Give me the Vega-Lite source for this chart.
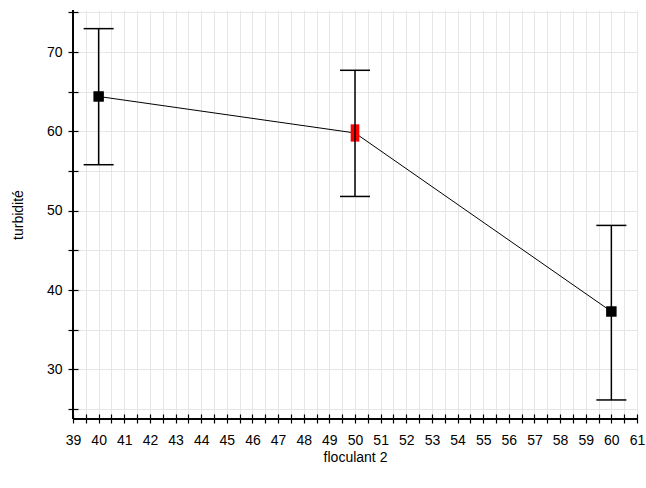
{
  "$schema": "https://vega.github.io/schema/vega-lite/v6.json",
  "width": 564,
  "height": 409,
  "autosize": "none",
  "padding": {"left": 73, "top": 10, "right": 9, "bottom": 69},
  "background": "white",
  "config": {
    "view": {"stroke": null},
    "axis": {
      "labelFont": "Liberation Sans",
      "titleFont": "Liberation Sans",
      "labelFontSize": 14,
      "titleFontSize": 14,
      "titleFontWeight": "normal",
      "labelColor": "#000000",
      "titleColor": "#000000",
      "gridColor": "#e6e6e6",
      "gridWidth": 1,
      "tickColor": "#000000",
      "tickWidth": 1.2,
      "labelOverlap": false,
      "labelFlush": false,
      "domain": false,
      "grid": true
    },
    "axisX": {"tickCount": 44},
    "axisY": {"tickCount": 10}
  },
  "data": {
    "values": [
      {"floculant": 40, "turbidite": 64.4, "low": 55.8, "high": 72.95, "sel": "no"},
      {"floculant": 50, "turbidite": 59.8, "low": 51.8, "high": 67.7, "sel": "yes"},
      {"floculant": 60, "turbidite": 37.3, "low": 26.15, "high": 48.15, "sel": "no"}
    ]
  },
  "layer": [
    {
      "mark": {"type": "line", "color": "#000000", "strokeWidth": 1},
      "encoding": {
        "x": {
          "field": "floculant",
          "type": "quantitative",
          "scale": {"domain": [39, 61], "nice": false, "zero": false},
          "axis": {
            "title": "floculant 2",
            "tickCount": 44,
            "labelExpr": "datum.value % 1 === 0 ? format(datum.value, 'd') : ''",
            "labelOverlap": false,
            "labelFlush": false,
            "offset": -5,
            "tickSize": 9,
            "domain": false,
            "grid": true,
            "labelPadding": 10,
            "titlePadding": 3
          }
        },
        "y": {
          "field": "turbidite",
          "type": "quantitative",
          "scale": {"domain": [23.75, 75.3], "nice": false, "zero": false},
          "axis": {
            "title": "turbidité",
            "tickCount": 10,
            "labelExpr": "datum.value % 10 === 0 ? format(datum.value, 'd') : ''",
            "labelOverlap": false,
            "labelFlush": false,
            "offset": -5,
            "tickSize": 10,
            "domain": false,
            "grid": true,
            "labelPadding": 6,
            "titlePadding": 21
          }
        }
      }
    },
    {
      "transform": [{"filter": "datum.sel === 'yes'"}],
      "mark": {"type": "point", "filled": true, "opacity": 1, "color": "#ff0000", "shape": "M-0.5,-1 L0.5,-1 L0.5,1 L-0.5,1 Z", "size": 300},
      "encoding": {
        "x": {"field": "floculant", "type": "quantitative"},
        "y": {"field": "turbidite", "type": "quantitative"}
      }
    },
    {
      "mark": {"type": "rule", "color": "#000000", "strokeWidth": 1.5},
      "encoding": {
        "x": {"field": "floculant", "type": "quantitative"},
        "y": {"field": "low", "type": "quantitative"},
        "y2": {"field": "high"}
      }
    },
    {
      "mark": {"type": "tick", "orient": "horizontal", "color": "#000000", "size": 30, "thickness": 1.5, "opacity": 1},
      "encoding": {
        "x": {"field": "floculant", "type": "quantitative"},
        "y": {"field": "low", "type": "quantitative"}
      }
    },
    {
      "mark": {"type": "tick", "orient": "horizontal", "color": "#000000", "size": 30, "thickness": 1.5, "opacity": 1},
      "encoding": {
        "x": {"field": "floculant", "type": "quantitative"},
        "y": {"field": "high", "type": "quantitative"}
      }
    },
    {
      "transform": [{"filter": "datum.sel === 'no'"}],
      "mark": {"type": "point", "filled": true, "opacity": 1, "color": "#000000", "shape": "square", "size": 110},
      "encoding": {
        "x": {"field": "floculant", "type": "quantitative"},
        "y": {"field": "turbidite", "type": "quantitative"}
      }
    },
    {
      "mark": {"type": "rule", "color": "#000000", "strokeWidth": 1.5},
      "encoding": {
        "x": {"datum": 39, "type": "quantitative"},
        "x2": {"datum": 61},
        "y": {"datum": 23.75, "type": "quantitative"}
      }
    },
    {
      "mark": {"type": "rule", "color": "#000000", "strokeWidth": 1.5},
      "encoding": {
        "x": {"datum": 39, "type": "quantitative"},
        "y": {"datum": 23.75, "type": "quantitative"},
        "y2": {"datum": 75.3}
      }
    }
  ]
}
